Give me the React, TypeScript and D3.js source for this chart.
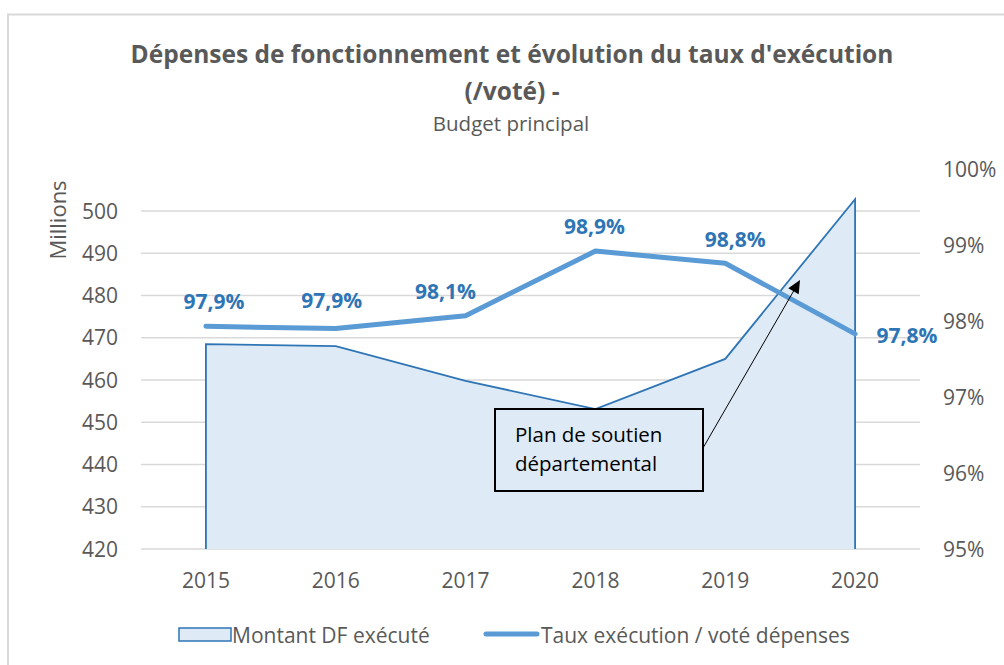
import React from "react";
import * as d3 from "d3";

const years = ["2015", "2016", "2017", "2018", "2019", "2020"];
const montant = [468.5, 468.0, 459.8, 453.1, 465.0, 502.8];
const taux = [97.93, 97.9, 98.07, 98.92, 98.76, 97.83];
const tauxLabels = ["97,9%", "97,9%", "98,1%", "98,9%", "98,8%", "97,8%"];
const leftTicks = [420, 430, 440, 450, 460, 470, 480, 490, 500];
const rightTicks = [95, 96, 97, 98, 99, 100];

// label placement offsets (layout only)
const labelDx = [8, -4, -20, -1, 10, 52];
const labelDy = [-17, -21, -17, -17, -16, 9];

const W = 1004, H = 665;
const plotL = 141, plotR = 920, plotT = 169, plotB = 549;
const grey = "#595959";
const font = "'Open Sans', sans-serif";

export default function App() {
  const x = d3.scaleBand<string>().domain(years).range([plotL, plotR]);
  const cx = (d: string) => (x(d) as number) + x.bandwidth() / 2;
  const yL = d3.scaleLinear().domain([420, 420 + (plotB - plotT) / 4.225]).range([plotB, plotT]);
  const yR = d3.scaleLinear().domain([95, 100]).range([plotB, plotT]);

  const area = d3.area<number>()
    .x((_, i) => cx(years[i]))
    .y0(plotB)
    .y1((d) => yL(d));
  const areaLine = d3.line<number>().x((_, i) => cx(years[i])).y((d) => yL(d));
  const line = d3.line<number>().x((_, i) => cx(years[i])).y((d) => yR(d));

  // annotation
  const bx = 495, by = 409, bw = 208, bh = 82;
  const ax1 = bx + bw, ay1 = 448, ax2 = 800, ay2 = 280;
  const ang = Math.atan2(ay2 - ay1, ax2 - ax1);
  const ah = 13, aw = 6;
  const p1 = [ax2 - ah * Math.cos(ang) + aw * Math.sin(ang), ay2 - ah * Math.sin(ang) - aw * Math.cos(ang)];
  const p2 = [ax2 - ah * Math.cos(ang) - aw * Math.sin(ang), ay2 - ah * Math.sin(ang) + aw * Math.cos(ang)];

  return (
    <svg width={W} height={H} style={{ position: "absolute", left: 0, top: 0, fontFamily: font }}>
      <rect x={0} y={0} width={W} height={H} fill="#fff" />
      <rect x={8} y={14.5} width={W + 10} height={H + 10} fill="none" stroke="#d9d9d9" strokeWidth={2} />
      <text x={512} y={63} textAnchor="middle" fontSize={24.5} fontWeight="bold" fill={grey}>
        Dépenses de fonctionnement et évolution du taux d'exécution
      </text>
      <text x={512} y={100} textAnchor="middle" fontSize={24.5} fontWeight="bold" fill={grey}>
        (/voté) -
      </text>
      <text x={511} y={131} textAnchor="middle" fontSize={20.5} fill={grey}>
        Budget principal
      </text>

      {leftTicks.map((t) => (
        <g key={t}>
          <line x1={plotL} x2={plotR} y1={yL(t)} y2={yL(t)} stroke="#d9d9d9" strokeWidth={1.5} />
          <text x={118} y={yL(t) + 7.5} textAnchor="end" fontSize={21} fill={grey}>{t}</text>
        </g>
      ))}
      {rightTicks.map((t) => (
        <text key={t} x={943} y={yR(t) + 7.5} textAnchor="start" fontSize={21} fill={grey}>{t}%</text>
      ))}
      <text transform={`translate(66,220) rotate(-90)`} textAnchor="middle" fontSize={22} fill={grey}>Millions</text>

      {years.map((y) => (
        <text key={y} x={cx(y)} y={588} textAnchor="middle" fontSize={21} fill={grey}>{y}</text>
      ))}

      <path d={area(montant) as string} fill="#deeaf6" />
      <path d={`M${cx(years[0])},${plotB}L${(areaLine(montant) as string).slice(1)}L${cx(years[5])},${plotB}`} fill="none" stroke="#2e75b6" strokeWidth={1.8} />

      <path d={line(taux) as string} fill="none" stroke="#5b9bd5" strokeWidth={5} strokeLinejoin="round" strokeLinecap="round" />

      {taux.map((v, i) => (
        <text key={i} x={cx(years[i]) + labelDx[i]} y={yR(v) + labelDy[i]}
          textAnchor="middle" fontSize={21} fontWeight="bold" fill="#2e75b6">{tauxLabels[i]}</text>
      ))}

      <rect x={bx} y={by} width={bw} height={bh} fill="#deeaf6" stroke="#000" strokeWidth={2} />
      <text x={515} y={442} fontSize={20.5} fill="#000">Plan de soutien</text>
      <text x={515} y={471} fontSize={20.5} fill="#000">départemental</text>
      <line x1={ax1} y1={ay1} x2={ax2 - 8 * Math.cos(ang)} y2={ay2 - 8 * Math.sin(ang)} stroke="#000" strokeWidth={1} />
      <polygon points={`${ax2},${ay2} ${p1[0]},${p1[1]} ${p2[0]},${p2[1]}`} fill="#000" />

      <rect x={179} y={628} width={52} height={13} fill="#deeaf6" stroke="#2e75b6" strokeWidth={1.5} />
      <text x={232} y={643} fontSize={21} fill={grey}>Montant DF exécuté</text>
      <line x1={486} x2={537} y1={634} y2={634} stroke="#5b9bd5" strokeWidth={5} strokeLinecap="round" />
      <text x={541} y={643} fontSize={21} fill={grey}>Taux exécution / voté dépenses</text>
    </svg>
  );
}
